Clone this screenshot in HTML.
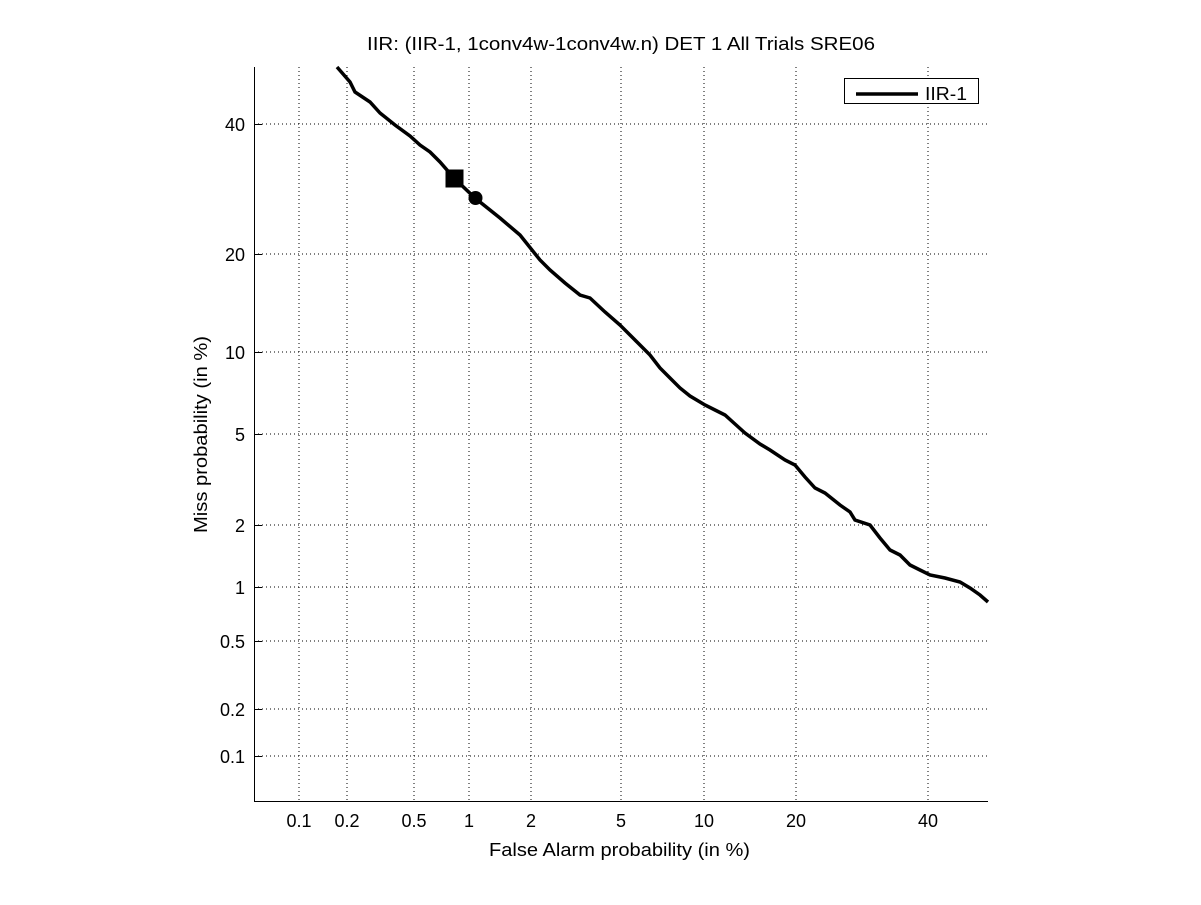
<!DOCTYPE html>
<html><head><style>body{margin:0;background:#fff}</style></head><body>
<svg width="1201" height="900" xmlns="http://www.w3.org/2000/svg" font-family="Liberation Sans, sans-serif" font-size="18">
<rect width="1201" height="900" fill="#fff"/>
<g stroke="#000" stroke-width="1" stroke-dasharray="1,3">
<line x1="299" y1="67" x2="299" y2="801"/><line x1="347" y1="67" x2="347" y2="801"/><line x1="414" y1="67" x2="414" y2="801"/><line x1="469" y1="67" x2="469" y2="801"/><line x1="531" y1="67" x2="531" y2="801"/><line x1="621" y1="67" x2="621" y2="801"/><line x1="704" y1="67" x2="704" y2="801"/><line x1="796" y1="67" x2="796" y2="801"/><line x1="928" y1="67" x2="928" y2="801"/>
<line x1="254" y1="124" x2="988" y2="124"/><line x1="254" y1="254" x2="988" y2="254"/><line x1="254" y1="352" x2="988" y2="352"/><line x1="254" y1="434" x2="988" y2="434"/><line x1="254" y1="525" x2="988" y2="525"/><line x1="254" y1="587" x2="988" y2="587"/><line x1="254" y1="641" x2="988" y2="641"/><line x1="254" y1="709" x2="988" y2="709"/><line x1="254" y1="756" x2="988" y2="756"/>
</g>
<g stroke="#000" stroke-width="1">
<line x1="254.5" y1="67" x2="254.5" y2="801"/><line x1="254" y1="801.5" x2="988" y2="801.5"/>
<line x1="254" y1="124.5" x2="262" y2="124.5"/><line x1="254" y1="254.5" x2="262" y2="254.5"/><line x1="254" y1="352.5" x2="262" y2="352.5"/><line x1="254" y1="434.5" x2="262" y2="434.5"/><line x1="254" y1="525.5" x2="262" y2="525.5"/><line x1="254" y1="587.5" x2="262" y2="587.5"/><line x1="254" y1="641.5" x2="262" y2="641.5"/><line x1="254" y1="709.5" x2="262" y2="709.5"/><line x1="254" y1="756.5" x2="262" y2="756.5"/>
</g>
<g text-anchor="end">
<text x="245" y="131">40</text><text x="245" y="261">20</text><text x="245" y="359">10</text><text x="245" y="441">5</text><text x="245" y="532">2</text><text x="245" y="594">1</text><text x="245" y="648">0.5</text><text x="245" y="716">0.2</text><text x="245" y="763">0.1</text>
</g>
<g text-anchor="middle">
<text x="299" y="827">0.1</text><text x="347" y="827">0.2</text><text x="414" y="827">0.5</text><text x="469" y="827">1</text><text x="531" y="827">2</text><text x="621" y="827">5</text><text x="704" y="827">10</text><text x="796" y="827">20</text><text x="928" y="827">40</text>
</g>
<text x="489" y="856" textLength="261" lengthAdjust="spacingAndGlyphs">False Alarm probability (in %)</text>
<text x="367" y="50" textLength="508" lengthAdjust="spacingAndGlyphs">IIR: (IIR-1, 1conv4w-1conv4w.n) DET 1 All Trials SRE06</text>
<text x="0" y="0" transform="translate(207,533) rotate(-90)" textLength="197" lengthAdjust="spacingAndGlyphs">Miss probability (in %)</text>
<polyline fill="none" stroke="#000" stroke-width="3.5" points="337,67 350,82 355,92 370,102 380,113 395,125 410,136 420,145 430,152 440,162 454,178 475,198 500,218 520,235 540,260 550,270 565,283 580,295 590,298 605,312 620,325 630,335 640,345 650,355 660,368 670,378 680,388 690,396 705,405 715,410 725,415 735,424 745,433 760,444 770,450 785,460 795,465 805,477 815,488 825,493 840,505 850,512 855,520 870,525 880,538 890,550 900,555 910,565 920,570 930,575 945,578 960,582 970,588 980,595 988,602"/>
<rect x="447" y="171" width="15" height="15" fill="#000" stroke="#000" stroke-width="3"/>
<rect x="450" y="174" width="9" height="9" fill="none" stroke="#000" stroke-width="1"/>
<circle cx="475.5" cy="198" r="7" fill="#000"/>
<rect x="844.5" y="78.5" width="134" height="25" fill="#fff" stroke="#000"/>
<line x1="856" y1="94" x2="918" y2="94" stroke="#000" stroke-width="3.5"/>
<text x="925" y="100" textLength="42" lengthAdjust="spacingAndGlyphs">IIR-1</text>
</svg>
</body></html>
